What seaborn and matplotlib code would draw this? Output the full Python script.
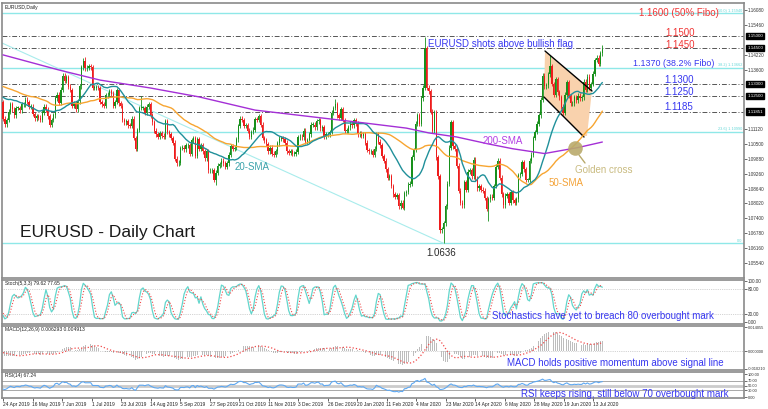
import numpy as np
import pandas as pd
import matplotlib
matplotlib.use("Agg")
import matplotlib.pyplot as plt
import matplotlib.transforms as mtransforms
from matplotlib.patches import Polygon
import seaborn as sns

sns.set_theme(style="white")
plt.rcParams['font.family'] = ['Liberation Sans', 'DejaVu Sans']

# ---------------- data ----------------
# closes 11 Feb 2019 - 23 Apr 2019 (warm-up for indicators, not drawn)
pre_closes = [1.1276, 1.1327, 1.1262, 1.1296, 1.1295, 1.1308, 1.1340, 1.1340, 1.1336, 1.1332, 1.1358, 1.1390, 1.1370, 1.1370,
              1.1365, 1.1340, 1.1307, 1.1308, 1.1193, 1.1235, 1.1245, 1.1288, 1.1328, 1.1306, 1.1326, 1.1342, 1.1353, 1.1418,
              1.1373, 1.1300, 1.1313, 1.1266, 1.1246, 1.1224, 1.1218,
              1.1214, 1.1203, 1.1236, 1.1222, 1.1216, 1.1263, 1.1264, 1.1273, 1.1255, 1.1300, 1.1302, 1.1285, 1.1295, 1.1236,
              1.1245, 1.1260, 1.1224]

closes = [
    # Apr 2019
    1.1155, 1.1132, 1.1150, 1.1184, 1.1215,
    # May 2019
    1.1195, 1.1170, 1.1200, 1.1200, 1.1190, 1.1215, 1.1215, 1.1235, 1.1225, 1.1205, 1.1205, 1.1175, 1.1157, 1.1165,
    1.1160, 1.1150, 1.1180, 1.1205, 1.1192, 1.1165, 1.1130, 1.1150, 1.1170,
    # Jun 2019
    1.1240, 1.1255, 1.1222, 1.1276, 1.1335, 1.1313, 1.1327, 1.1288, 1.1275, 1.1210, 1.1218, 1.1195, 1.1228, 1.1290,
    1.1370, 1.1397, 1.1365, 1.1367, 1.1373, 1.1370,
    # Jul 2019
    1.1285, 1.1285, 1.1285, 1.1283, 1.1225, 1.1215, 1.1208, 1.1252, 1.1255, 1.1270, 1.1260, 1.1210, 1.1225, 1.1275,
    1.1220, 1.1210, 1.1150, 1.1140, 1.1145, 1.1128, 1.1125, 1.1155, 1.1075,
    # Aug 2019
    1.1030, 1.1108, 1.1200, 1.1200, 1.1200, 1.1180, 1.1205, 1.1215, 1.1170, 1.1140, 1.1105, 1.1090, 1.1080, 1.1095,
    1.1085, 1.1080, 1.1145, 1.1100, 1.1090, 1.1075, 1.1055, 1.0988,
    # Sep 2019
    1.0970, 1.0972, 1.1033, 1.1035, 1.1027, 1.1045, 1.1045, 1.1010, 1.1065, 1.1075, 1.1000, 1.1070, 1.1030, 1.1045,
    1.1020, 1.0990, 1.1020, 1.0940, 1.0940, 1.0940, 1.0900,
    # Oct 2019
    1.0930, 1.0960, 1.0965, 1.0980, 1.0970, 1.0955, 1.0970, 1.1005, 1.1040, 1.1030, 1.1035, 1.1070, 1.1125, 1.1155,
    1.1150, 1.1125, 1.1128, 1.1105, 1.1080, 1.1100, 1.1110, 1.1153, 1.1150,
    # Nov 2019
    1.1165, 1.1130, 1.1075, 1.1065, 1.1050, 1.1020, 1.1035, 1.1010, 1.1005, 1.1020, 1.1052, 1.1072, 1.1075, 1.1070,
    1.1055, 1.1020, 1.1012, 1.1020, 1.1010, 1.1010, 1.1018,
    # Dec 2019
    1.1078, 1.1080, 1.1077, 1.1105, 1.1060, 1.1065, 1.1090, 1.1130, 1.1130, 1.1120, 1.1145, 1.1150, 1.1115, 1.1120,
    1.1080, 1.1090, 1.1090, 1.1100, 1.1180, 1.1200, 1.1215,
    # Jan 2020
    1.1170, 1.1160, 1.1195, 1.1150, 1.1105, 1.1105, 1.1120, 1.1135, 1.1128, 1.1150, 1.1135, 1.1090, 1.1095, 1.1085,
    1.1090, 1.1055, 1.1025, 1.1020, 1.1020, 1.1005, 1.1030, 1.1090,
    # Feb 2020
    1.1060, 1.1045, 1.1000, 1.0980, 1.0945, 1.0910, 1.0915, 1.0875, 1.0840, 1.0830, 1.0837, 1.0790, 1.0805, 1.0785,
    1.0845, 1.0850, 1.0880, 1.0885, 1.0995, 1.1025,
    # Mar 2020
    1.1135, 1.1170, 1.1135, 1.1240, 1.1285, 1.1450, 1.1285, 1.1270, 1.1185, 1.1105, 1.1180, 1.0995, 1.0915, 1.0690,
    1.0695, 1.0720, 1.0790, 1.0885, 1.1035, 1.1140, 1.1040, 1.1030,
    # Apr 2020
    1.0960, 1.0855, 1.0805, 1.0795, 1.0890, 1.0860, 1.0935, 1.0940, 1.0915, 1.0985, 1.0905, 1.0865, 1.0875, 1.0860,
    1.0855, 1.0825, 1.0780, 1.0820, 1.0830, 1.0825, 1.0875, 1.0955,
    # May 2020
    1.0980, 1.0910, 1.0840, 1.0795, 1.0835, 1.0840, 1.0805, 1.0850, 1.0815, 1.0805, 1.0820, 1.0920, 1.0925, 1.0975,
    1.0945, 1.0900, 1.0900, 1.0980, 1.1005, 1.1075, 1.1100,
    # Jun 2020
    1.1135, 1.1170, 1.1235, 1.1335, 1.1290, 1.1295, 1.1340, 1.1375, 1.1300, 1.1255, 1.1320, 1.1265, 1.1245, 1.1205,
    1.1180, 1.1255, 1.1308, 1.1250, 1.1220, 1.1220, 1.1245, 1.1232,
    # Jul 2020
    1.1251, 1.1240, 1.1244, 1.1310, 1.1275, 1.1330, 1.1285, 1.1300, 1.1343, 1.1400, 1.1410, 1.1383, 1.1427, 1.1445,
]

extreme_highs = {"2019-06-25": 1.1412, "2019-08-06": 1.1250, "2019-12-31": 1.1239, "2020-03-09": 1.1496,
                 "2020-06-10": 1.1422, "2020-07-20": 1.1462}
extreme_lows = {"2019-10-01": 1.0879, "2020-02-20": 1.0778, "2020-03-23": 1.0636, "2020-04-24": 1.0727,
                "2020-05-06": 1.0782}

# 200-SMA (bar index, value)
sma200_bars = [0, 30, 52, 79, 105, 135, 171, 194, 216, 228, 243, 260, 273, 290, 308, 321]
sma200_vals = [1.1421, 1.1358, 1.1316, 1.1283, 1.1246, 1.1191, 1.1158, 1.1137, 1.1116, 1.1096, 1.1079, 1.1050,
               1.1030, 1.1010, 1.1035, 1.1058]

tick_labels = ["24 Apr 2019", "16 May 2019", "7 Jun 2019", "1 Jul 2019", "23 Jul 2019", "14 Aug 2019", "5 Sep 2019",
               "27 Sep 2019", "21 Oct 2019", "11 Nov 2019", "3 Dec 2019", "26 Dec 2019", "20 Jan 2020", "11 Feb 2020",
               "4 Mar 2020", "23 Mar 2020", "14 Apr 2020", "6 May 2020", "28 May 2020", "19 Jun 2020", "13 Jul 2020"]

hlines_dash = [1.1500, 1.1450, 1.1300, 1.1250, 1.1185]
fibo_levels = [1.1594, 1.13662, 1.1099, 1.0636]
fibo_names = ["50.0) 1.15940", "38.2) 1.13662", "23.6) 1.10990", "0.0"]
boxed_prices = [1.15000, 1.14500, 1.13000, 1.12500, 1.11851]

# ---------------- computations ----------------
dates = pd.bdate_range("2019-04-24", "2020-07-20")
dates = dates[~dates.isin(pd.to_datetime(["2019-12-25", "2020-01-01"]))]
n = min(len(dates), len(closes))
dates = dates[:n]
cl_all = np.array(pre_closes + closes[:n])
op_all = np.concatenate([[cl_all[0]], cl_all[:-1]])
wick = 0.0010
hi_all = np.maximum(op_all, cl_all) + wick
lo_all = np.minimum(op_all, cl_all) - wick
npre = len(pre_closes)
for d, v in extreme_highs.items():
    k = np.where(dates == pd.Timestamp(d))[0]
    if len(k):
        hi_all[npre + k[0]] = max(v, max(op_all[npre + k[0]], cl_all[npre + k[0]]))
for d, v in extreme_lows.items():
    k = np.where(dates == pd.Timestamp(d))[0]
    if len(k):
        lo_all[npre + k[0]] = min(v, min(op_all[npre + k[0]], cl_all[npre + k[0]]))

s = pd.Series(cl_all)
sma20 = s.rolling(20, min_periods=1).mean().values[npre:]
sma50 = s.rolling(50, min_periods=1).mean().values[npre:]
ema12 = s.ewm(span=12, adjust=False).mean()
ema26 = s.ewm(span=26, adjust=False).mean()
macd = (ema12 - ema26)
signal = macd.rolling(9, min_periods=1).mean()
macd = macd.values[npre:]
signal = signal.values[npre:]
delta = s.diff().fillna(0)
gain = delta.clip(lower=0).ewm(alpha=1 / 14, adjust=False).mean()
loss = (-delta.clip(upper=0)).ewm(alpha=1 / 14, adjust=False).mean()
rsi = (100 - 100 / (1 + gain / loss.replace(0, np.nan))).fillna(50).values[npre:]
hh = pd.Series(hi_all).rolling(5, min_periods=1).max()
ll = pd.Series(lo_all).rolling(5, min_periods=1).min()
num = (s - ll).rolling(3, min_periods=1).sum()
den = (hh - ll).rolling(3, min_periods=1).sum()
stk = 100 * num / den
std = stk.rolling(3, min_periods=1).mean()
stk = stk.values[npre:]
std = std.values[npre:]

op = op_all[npre:]
cl = cl_all[npre:]
hi = hi_all[npre:]
lo = lo_all[npre:]
idx = np.arange(n)
last_tick_bar = int(np.where(dates == pd.Timestamp("2020-07-13"))[0][0])

# ---------------- figure ----------------
W, H = 768, 409
PXB = (593 - 3) / float(last_tick_bar)  # pixels per bar


def bx(px):
    return (px - 3) / PXB


def py(y):
    return 1.1608 - (y - 10) * 0.0004166


fig = plt.figure(figsize=(W / 100, H / 100), dpi=100)
fig.patch.set_facecolor("white")


def rect(top, bottom, left=2, right=744):
    return [left / W, 1 - bottom / H, (right - left) / W, (bottom - top) / H]


ax = fig.add_axes(rect(3, 278))
ax_st = fig.add_axes(rect(280, 324))
ax_md = fig.add_axes(rect(326, 370))
ax_rs = fig.add_axes(rect(372, 398))

XL = (bx(2), bx(744))
for a in (ax, ax_st, ax_md, ax_rs):
    a.set_facecolor("white")
    a.set_xlim(*XL)
    for sp in a.spines.values():
        sp.set_color("#8a8a8a")
        sp.set_linewidth(1.2)
    a.yaxis.tick_right()
    a.tick_params(axis="y", labelsize=3.3, length=2, width=0.5, pad=0.8, colors="#333333", direction="out",
                  right=True, left=False)
    a.tick_params(axis="x", bottom=False, labelbottom=False)
    a.grid(False)

ax.set_ylim(py(278), py(3))
blue = "#3737f0"
red = "#f03434"
bt = mtransforms.blended_transform_factory(ax.transAxes, ax.transData)

# horizontal levels
for lv in fibo_levels:
    ax.axhline(lv, color="#8fe8e8", lw=1.0, zorder=1)
for lv in hlines_dash:
    ax.axhline(lv, color="#555555", lw=0.7, ls=(0, (5, 2, 1, 2)), zorder=1)
for lv, nm in zip(fibo_levels, fibo_names):
    ax.text(0.998, lv + 0.0003, nm, transform=bt, fontsize=2.8, color="#66d8d8", ha="right", va="bottom")

# fibo trend line
low_i = int(np.argmin(lo))
ax.plot([XL[0], low_i], [py(43), lo[low_i]], color="#a8ecec", lw=0.8, zorder=1)

# flag
flag_poly = [(bx(545), py(52)), (bx(592), py(90)), (bx(587), py(136)), (bx(583), py(136)), (bx(544), py(97))]
ax.add_patch(Polygon(flag_poly, closed=True, facecolor="#f9d2ad", edgecolor="none", zorder=1.5))
ax.plot([bx(545), bx(592)], [py(51), py(91)], color="black", lw=1.0, zorder=4)
ax.plot([bx(544), bx(584)], [py(97), py(137)], color="black", lw=1.0, zorder=4)

# candles
up = cl >= op
ccol = np.where(up, "#17901b", "#ee1c1c")
ax.vlines(idx, lo, hi, colors=ccol, lw=0.6, zorder=2)
body = np.maximum(np.abs(cl - op), 0.00025)
ax.bar(idx, body, bottom=np.minimum(op, cl), width=0.7, color=ccol, linewidth=0, zorder=3)

# moving averages
sns.lineplot(x=idx, y=sma50, ax=ax, color="#f7a531", lw=1.0, legend=False, zorder=5)
sns.lineplot(x=idx, y=sma20, ax=ax, color="#20909a", lw=1.0, legend=False, zorder=5)
sns.lineplot(x=sma200_bars, y=sma200_vals, ax=ax, color="#a42fd6", lw=1.0, legend=False, zorder=5)

# golden cross
ax.scatter([bx(575)], [py(148)], s=110, color="#b9aa6c", alpha=0.9, zorder=6, linewidths=0)
ax.plot([bx(579), bx(585)], [py(155), py(163)], color="#b9aa6c", lw=1.0, zorder=6)

# y ticks main (levels hidden behind the black price boxes are left out)
mt = [1.16080 - k * 0.0062 for k in range(18)]
mt = [v for v in mt if min(abs(v - b) for b in boxed_prices) > 0.0016]
ax.set_yticks(mt)
ax.set_yticklabels([f"{v:.5f}" for v in mt])
for p in boxed_prices:
    ax.text(1.0045, p, f"{p:.5f}", transform=bt, fontsize=3.2, color="white", ha="left", va="center",
            bbox=dict(boxstyle="square,pad=0.25", fc="black", ec="black"), zorder=10, clip_on=False)

# annotations main
ax.text(bx(428), py(44), "EURUSD shots above bullish flag", color=blue, fontsize=7.0, va="center", zorder=8)
ax.text(bx(639), py(13), "1.1600 (50% Fibo)", color=red, fontsize=7.0, va="center", zorder=8)
for lab, yy, px, c, fs in [("1.1500", 33, 665, red, 7.0), ("1.1450", 45, 665, red, 7.0),
                           ("1.1370 (38.2% Fibo)", 63, 633, blue, 6.4), ("1.1300", 80, 664, blue, 7.0),
                           ("1.1250", 92, 664, blue, 7.0), ("1.1185", 107, 664, blue, 7.0)]:
    ax.text(bx(px), py(yy), lab, color=c, fontsize=fs, va="center", zorder=8)
ax.text(bx(483), py(141), "200-SMA", color="#b440e4", fontsize=7, va="center", zorder=8)
ax.text(bx(235), py(167), "20-SMA", color="#3aa2aa", fontsize=7, va="center", zorder=8)
ax.text(bx(575), py(170), "Golden cross", color="#c9bb80", fontsize=7, va="center", zorder=8)
ax.text(bx(549), py(183), "50-SMA", color="#f4a338", fontsize=7, va="center", zorder=8)
ax.text(bx(426), py(253), "1.0636", color="#2a2a2a", fontsize=7, va="center", zorder=8)
ax.text(bx(20), py(232), "EURUSD - Daily Chart", color="#1a1a1a", fontsize=12.5, va="center", zorder=8)
fig.text(5 / W, 1 - 8 / H, "EURUSD,Daily", fontsize=3.6, color="#222222", va="center")

# ---------------- stochastic ----------------
ax_st.set_ylim(-4.9, 102.4)
ax_st.axhline(80, color="#aaaaaa", lw=0.5, ls=":")
ax_st.axhline(20, color="#aaaaaa", lw=0.5, ls=":")
sns.lineplot(x=idx, y=stk, ax=ax_st, color="#62d6cc", lw=0.9, legend=False)
sns.lineplot(x=idx, y=std, ax=ax_st, color="#f04a4a", lw=0.8, ls=":", legend=False)
ax_st.set_yticks([100, 80, 20, 0])
ax_st.set_yticklabels(["100.00", "80.00", "20.00", "0.00"])
fig.text(5 / W, 1 - 284 / H, "Stoch(5,3,3) 79.62 77.65", fontsize=3.6, color="#222222", va="center")
fig.text(492 / W, 1 - 316 / H, "Stochastics have yet to breach 80 overbought mark", color=blue, fontsize=7.0,
         va="center")

# ---------------- MACD ----------------
ax_md.set_ylim(-0.010788, 0.014633)
ax_md.bar(idx, macd, width=0.4, color="#bdbdbd", linewidth=0)
ax_md.axhline(0, color="#aaaaaa", lw=0.5, ls=":")
sns.lineplot(x=idx, y=signal, ax=ax_md, color="#f04a4a", lw=0.9, ls=":", legend=False)
ax_md.set_yticks([0.014055, 0.0, -0.010210])
ax_md.set_yticklabels(["0.014055", "0.000000", "-0.010210"])
ax_md.tick_params(axis="y", labelsize=2.9, pad=0.5)
fig.text(5 / W, 1 - 330 / H, "MACD(12,26,9) 0.006293 0.004913", fontsize=3.6, color="#222222", va="center")
fig.text(507 / W, 1 - 363 / H, "MACD holds positive momentum above signal line", color=blue, fontsize=7.0,
         va="center")

# ---------------- RSI ----------------
ax_rs.set_ylim(-4.3, 108.7)
ax_rs.axhline(70, color="#9a9a9a", lw=0.6)
ax_rs.axhline(50, color="#cccccc", lw=2.0)
ax_rs.axhline(30, color="#9a9a9a", lw=0.6)
sns.lineplot(x=idx, y=rsi, ax=ax_rs, color="#5ea8f2", lw=0.8, legend=False)
ax_rs.set_yticks([100, 70, 50, 30, 0])
ax_rs.set_yticklabels(["100.00", "70.00", "50.00", "30.00", "0.00"])
ax_rs.tick_params(axis="y", labelsize=2.9, pad=0.5)
fig.text(5 / W, 1 - 376 / H, "RSI(14) 67.24", fontsize=3.6, color="#222222", va="center")
fig.text(521 / W, 1 - 394 / H, "RSI keeps rising, still below 70 overbought mark", color=blue, fontsize=7.0,
         va="center")

# x ticks: evenly spaced every 16 terminal bars, as on the chart
tpos = np.linspace(0, last_tick_bar, len(tick_labels))
ax_rs.set_xticks(tpos)
ax_rs.set_xticklabels(tick_labels, ha="left")
ax_rs.tick_params(axis="x", bottom=True, labelbottom=True, labelsize=3.5, length=2, width=0.5, pad=1,
                  colors="#222222")

fig.savefig("out.png", dpi=100, facecolor="white")
